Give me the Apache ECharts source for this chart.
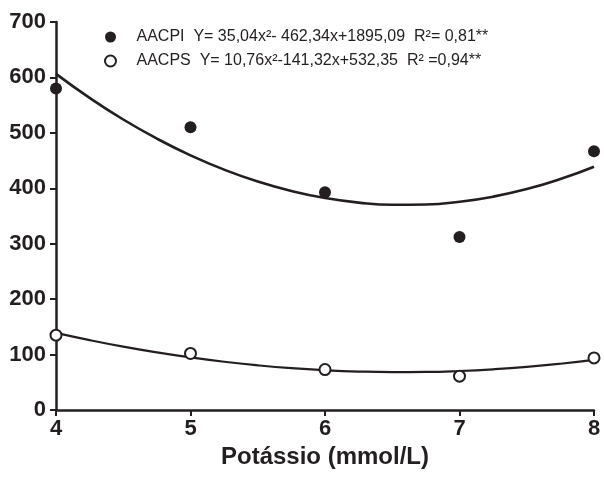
<!DOCTYPE html>
<html>
<head>
<meta charset="utf-8">
<script src="https://cdn.jsdelivr.net/npm/echarts@6/dist/echarts.min.js"></script>
<style>
  html, body { margin: 0; padding: 0; background: #fff; }
  #chart { width: 604px; height: 477px; }
</style>
</head>
<body>
<div id="chart"></div>
<script>
// Observed amino-acid contents by potassium level
const potassium = [4, 5, 6, 7, 8];
const aacpi = [580, 510, 393, 312, 467];
const aacps = [135, 102, 73, 61, 94];

// Fitted quadratic curves, sampled every 0.25 mmol/L
const fitX = [4, 4.25, 4.5, 4.75, 5, 5.25, 5.5, 5.75, 6, 6.25, 6.5, 6.75, 7, 7.25, 7.5, 7.75, 8];
const fitAacpi = [606.4, 563.1, 524.1, 489.6, 459.4, 433.6, 412.2, 395.2, 382.5, 374.2, 370.3, 370.8, 375.7, 384.9, 398.5, 416.6, 438.9];
const fitAacps = [139.2, 126.1, 114.3, 103.9, 94.8, 87.0, 80.6, 75.5, 71.8, 69.4, 68.4, 68.7, 70.4, 73.4, 77.7, 83.4, 90.4];

const yTicks = [0, 100, 200, 300, 400, 500, 600, 700];

const ink = '#231f20';
const font = 'Liberation Sans, Arial, sans-serif';

const chart = echarts.init(document.getElementById('chart'), null, { renderer: 'canvas' });

const zip = (xs, ys) => xs.map((x, i) => [x, ys[i]]);

chart.setOption({
  animation: false,
  backgroundColor: '#fff',
  grid: { left: 56, right: 10, top: 22, bottom: 67 },
  legend: {
    orient: 'vertical',
    left: 99,
    top: 24,
    itemGap: 8,
    itemWidth: 42,
    itemHeight: 11,
    textStyle: { fontFamily: font, fontSize: 16, lineHeight: 16, color: ink },
    data: [
      { name: 'AACPI', icon: 'circle' },
      { name: 'AACPS', icon: 'circle' }
    ],
    formatter: function (name) {
      if (name === 'AACPI') return 'AACPI  Y= 35,04x\u00b2- 462,34x+1895,09  R\u00b2= 0,81**';
      return 'AACPS  Y= 10,76x\u00b2-141,32x+532,35  R\u00b2 =0,94**';
    }
  },
  xAxis: {
    type: 'value',
    min: 4,
    max: 8,
    interval: 1,
    name: 'Potássio (mmol/L)',
    nameLocation: 'middle',
    nameGap: 35,
    nameTextStyle: { fontFamily: font, fontSize: 24, fontWeight: 'bold', color: ink },
    axisLine: { show: true, onZero: false, lineStyle: { color: ink, width: 2.5 } },
    axisTick: { show: true, inside: false, length: 6, lineStyle: { color: ink, width: 2 } },
    axisLabel: { fontFamily: font, fontSize: 22, fontWeight: 'bold', color: ink, margin: 8 },
    splitLine: { show: false }
  },
  yAxis: {
    type: 'value',
    min: yTicks[0],
    max: yTicks[yTicks.length - 1],
    interval: 100,
    axisLine: { show: true, onZero: false, lineStyle: { color: ink, width: 2.5 } },
    axisTick: { show: true, inside: false, length: 6, lineStyle: { color: ink, width: 2 } },
    axisLabel: { fontFamily: font, fontSize: 22, fontWeight: 'bold', color: ink, margin: 10 },
    splitLine: { show: false }
  },
  series: [
    {
      name: 'AACPI fit',
      type: 'line',
      data: zip(fitX, fitAacpi),
      smooth: true,
      showSymbol: false,
      lineStyle: { color: ink, width: 2.6 },
      z: 2
    },
    {
      name: 'AACPS fit',
      type: 'line',
      data: zip(fitX, fitAacps),
      smooth: true,
      showSymbol: false,
      lineStyle: { color: ink, width: 2.2 },
      z: 2
    },
    {
      name: 'AACPI',
      type: 'scatter',
      data: zip(potassium, aacpi),
      symbol: 'circle',
      symbolSize: 12,
      itemStyle: { color: ink, opacity: 1 },
      z: 3
    },
    {
      name: 'AACPS',
      type: 'scatter',
      data: zip(potassium, aacps),
      symbol: 'circle',
      symbolSize: 11,
      itemStyle: { color: '#fff', borderColor: ink, borderWidth: 2, opacity: 1 },
      z: 3
    }
  ]
});
</script>
</body>
</html>
